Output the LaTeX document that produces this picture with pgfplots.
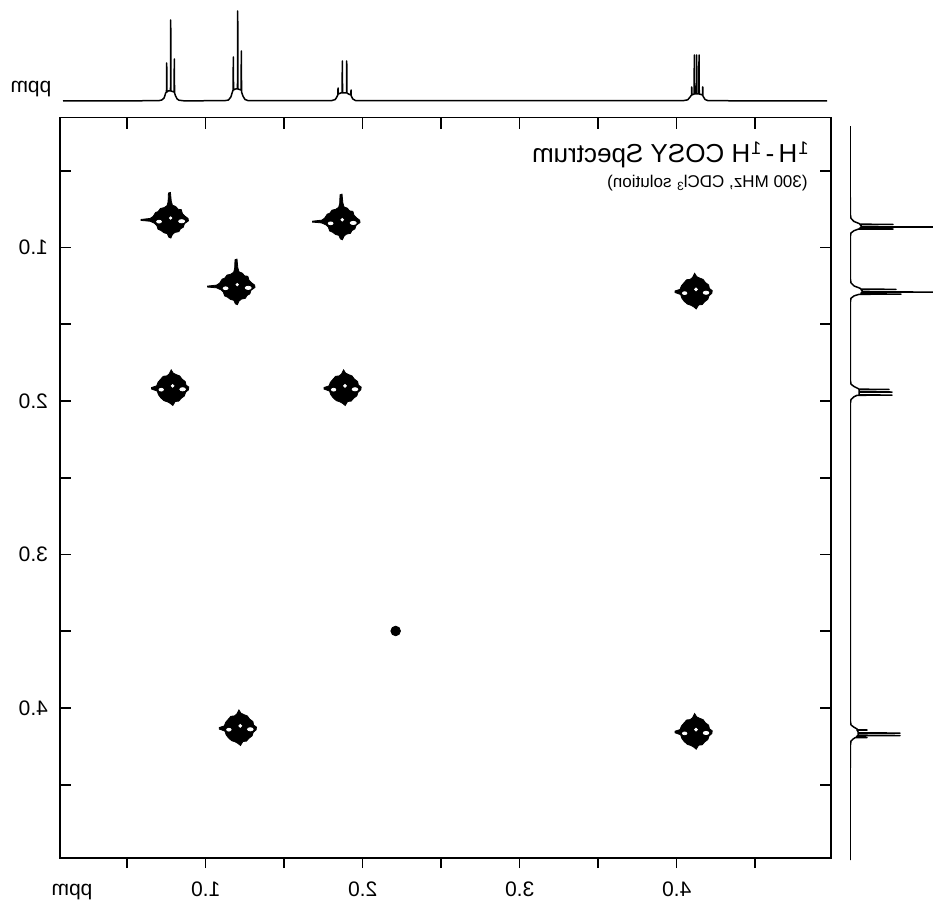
\documentclass[border=0pt]{standalone}
\usepackage{graphicx}
\usepackage{fontspec}
\setmainfont{Liberation Sans}
\usepackage{pgfplots}
\pgfplotsset{compat=1.18}

\pgfdeclareplotmark{blobA}{%
  \fill (-14.5pt,0.3pt) -- (-10pt,0.8pt) -- (-8.5pt,1.8pt) -- (-7.2pt,3.8pt) -- (-6pt,4.2pt) -- (-4.8pt,5.8pt)
   -- (-3pt,6.2pt) -- (-1.5pt,7.2pt) -- (-1pt,9pt) -- (-0.8pt,13.5pt) -- (0.2pt,13.8pt) -- (0.6pt,9.5pt)
   -- (1.2pt,7.4pt) -- (2.8pt,6.8pt) -- (4pt,5.4pt) -- (5.6pt,5.2pt) -- (6.2pt,3.2pt) -- (7.4pt,2pt)
   -- (9pt,0.8pt) -- (9.2pt,-0.4pt) -- (7.2pt,-1.8pt) -- (6.6pt,-3.6pt) -- (5.2pt,-4.4pt) -- (4.4pt,-5.8pt)
   -- (2.4pt,-6.2pt) -- (1.2pt,-7.2pt) -- (0.4pt,-9pt) -- (-0.6pt,-8.6pt) -- (-1.4pt,-6.8pt) -- (-3pt,-6.4pt)
   -- (-4.6pt,-5.2pt) -- (-6pt,-4.6pt) -- (-6.6pt,-2.8pt) -- (-7.8pt,-1.6pt) -- (-10pt,-0.6pt) -- (-14.5pt,-0.2pt) -- cycle;
  \fill[white] (5.8pt,-0.6pt) ellipse (1.5pt and 0.8pt);
  \fill[white] (-5.5pt,-0.8pt) ellipse (1.2pt and 0.7pt);
  \fill[white] (0.3pt,1pt) circle (0.6pt);
}
\pgfdeclareplotmark{blobB}{%
  \fill (-10pt,0.4pt) -- (-7.5pt,1.2pt) -- (-6.8pt,3pt) -- (-5.6pt,4.4pt) -- (-4.2pt,6pt) -- (-2.4pt,6.2pt)
   -- (-1.2pt,7.2pt) -- (-0.2pt,9.2pt) -- (0.8pt,7.6pt) -- (2.4pt,6.8pt) -- (4pt,6.2pt) -- (5.2pt,4.6pt)
   -- (6.8pt,3.4pt) -- (7.2pt,1.6pt) -- (8.6pt,0.6pt) -- (8.4pt,-0.8pt) -- (7pt,-2pt) -- (6.4pt,-3.8pt)
   -- (4.8pt,-5pt) -- (3.6pt,-6.4pt) -- (1.8pt,-6.6pt) -- (0.6pt,-8.6pt) -- (-0.6pt,-7.6pt) -- (-2pt,-6.8pt)
   -- (-3.8pt,-6.2pt) -- (-5.4pt,-4.8pt) -- (-6.6pt,-3.2pt) -- (-7.2pt,-1.4pt) -- (-10pt,-0.4pt) -- cycle;
  \fill[white] (5.5pt,-0.5pt) ellipse (1.4pt and 0.8pt);
  \fill[white] (-5.2pt,-0.7pt) ellipse (1.1pt and 0.7pt);
  \fill[white] (0.5pt,1.2pt) circle (0.7pt);
}

\begin{document}
\begin{tikzpicture}
\useasboundingbox (0,0) rectangle (466.5pt,-452pt);

% main axis: y ticks (inside, both sides), top x ticks inside, data
\begin{axis}[
  at={(30pt,-58.75pt)}, anchor=north west, scale only axis,
  width=385.5pt, height=370.25pt,
  xmin=0.072, xmax=4.983, ymin=0.153, ymax=4.977, y dir=reverse,
  axis line style={line width=0.9pt},
  tick style={line width=0.8pt, black},
  tick align=inside, major tick length=5.5pt, minor tick length=5.5pt,
  xtick={1,2,3,4}, minor xtick={0.5,1.5,2.5,3.5,4.5}, xtick pos=upper, xticklabel=\empty,
  ytick={1,2,3,4}, minor ytick={0.5,1.5,2.5,3.5,4.5}, ytick pos=both, yticklabel pos=lower,
  yticklabels={\reflectbox{1.0},\reflectbox{2.0},\reflectbox{3.0},\reflectbox{4.0}},
  yticklabel style={font=\fontsize{10.5}{12}\selectfont, xshift=-2.5pt},
  clip=false,
]
\addplot[only marks, mark=blobA] coordinates {(0.773,0.821) (1.866,0.832) (1.197,1.255)};
\addplot[only marks, mark=blobB] coordinates {(4.117,1.288) (0.783,1.917) (1.881,1.917) (1.214,4.132) (4.117,4.156)};
\addplot[only marks, mark=*, mark size=2.4pt, black] coordinates {(2.210,3.498)};
\end{axis}

% bottom x ticks outside with labels
\begin{axis}[
  at={(30pt,-58.75pt)}, anchor=north west, scale only axis,
  width=385.5pt, height=370.25pt,
  xmin=0.072, xmax=4.983, ymin=0.153, ymax=4.977, y dir=reverse,
  axis line style={line width=0.9pt},
  tick style={line width=0.8pt, black},
  tick align=outside, major tick length=5pt, minor tick length=5pt,
  xtick={1,2,3,4}, minor xtick={0.5,1.5,2.5,3.5,4.5}, xtick pos=lower,
  xticklabels={\reflectbox{1.0},\reflectbox{2.0},\reflectbox{3.0},\reflectbox{4.0}},
  xticklabel style={font=\fontsize{10.5}{12}\selectfont, yshift=-3.5pt},
  ytick=\empty,
]
\end{axis}

% top 1D spectrum
\begin{axis}[
  at={(31.5pt,-50.5pt)}, anchor=south west, scale only axis,
  width=382pt, height=45.5pt,
  xmin=0.091, xmax=4.957, ymin=0, ymax=91,
  hide axis, clip=false,
]
\addplot[black, line width=0.75pt, line join=round] coordinates {
(0.091,0) (0.70,0.3) (0.72,1) (0.735,3) (0.745,8) (0.7501,9) (0.7516,38) (0.7531,9) (0.760,10) (0.7756,10) (0.7771,81) (0.7786,10) (0.7985,9) (0.8000,42) (0.8015,8) (0.808,5) (0.818,2) (0.83,0.8) (0.86,0.2)
(1.12,0.3) (1.145,1) (1.16,4) (1.17,9) (1.1743,11) (1.1758,44) (1.1773,11) (1.19,12) (1.2023,12) (1.2038,90) (1.2053,12) (1.2253,11) (1.2268,50) (1.2283,9) (1.237,5) (1.25,1.5) (1.27,0.4)
(1.80,0.3) (1.825,1.5) (1.835,4) (1.8412,6) (1.8427,13) (1.8442,7) (1.86,8) (1.8686,8) (1.8701,40) (1.8716,8) (1.8966,8) (1.8981,40) (1.8996,8) (1.91,7) (1.924,6) (1.9255,11) (1.927,5) (1.937,2) (1.955,0.4)
(4.04,0.3) (4.07,1.2) (4.085,4) (4.094,6) (4.0955,14) (4.097,6) (4.1105,7) (4.112,46) (4.1135,7) (4.1255,7) (4.127,46) (4.1285,7) (4.1405,7) (4.142,46) (4.1435,7) (4.164,6) (4.1656,14) (4.167,5) (4.18,1.5) (4.20,0.3) (4.957,0)
};
\end{axis}

% right 1D spectrum
\begin{axis}[
  at={(425pt,-63pt)}, anchor=north west, scale only axis,
  width=41.5pt, height=367pt,
  xmin=0, xmax=83, ymin=0.208, ymax=4.990, y dir=reverse,
  hide axis, clip=true,
]
\addplot[black, line width=0.75pt, line join=round] coordinates {
(0,0.208) (0.3,0.78) (1,0.81) (4,0.83) (9,0.843) (10,0.8475) (43,0.849) (10,0.8505) (11,0.857) (11,0.8645) (95,0.866) (11,0.8675) (10,0.8735) (9,0.8775) (43,0.879) (8,0.8805) (4,0.89) (1,0.905) (0.3,0.93)
(0.3,1.20) (1,1.23) (4,1.25) (10,1.265) (11,1.2705) (46,1.272) (11,1.2735) (12,1.281) (12,1.2885) (95,1.290) (12,1.2915) (11,1.2965) (11,1.3015) (51,1.303) (9,1.3045) (4,1.315) (1,1.33) (0.3,1.36)
(0.3,1.86) (1,1.89) (4,1.905) (8,1.918) (9,1.9225) (39,1.924) (9,1.9255) (9,1.933) (9,1.9395) (42,1.941) (9,1.9425) (9,1.951) (9,1.9595) (42,1.961) (7,1.9625) (4,1.972) (1,1.99) (0.3,2.02)
(0.3,4.08) (1,4.11) (4,4.125) (7,4.136) (7,4.1415) (17,4.143) (7,4.1445) (8,4.153) (8,4.1615) (50,4.163) (8,4.1645) (8,4.1715) (8,4.1775) (50,4.179) (7,4.1805) (7,4.186) (6,4.1905) (17,4.192) (5,4.1935) (3,4.202) (1,4.215) (0.3,4.25) (0,4.99)
};
\end{axis}

% texts (mirrored as in the reference)
\node[anchor=base, font=\fontsize{10.5}{12}\selectfont] at (15.5pt,-46.5pt) {\reflectbox{ppm}};
\node[anchor=base, font=\fontsize{10.5}{12}\selectfont] at (36pt,-447.5pt) {\reflectbox{ppm}};
\node[anchor=east, inner sep=0pt, font=\fontsize{13}{15}\selectfont] at (404.5pt,-77.5pt)
  {\reflectbox{\textsuperscript{1}H\,-\,\textsuperscript{1}H COSY Spectrum}};
\node[anchor=east, inner sep=0pt, font=\fontsize{8.5}{10}\selectfont] at (404pt,-91.5pt)
  {\reflectbox{(300 MHz, CDCl\textsubscript{3} solution)}};
\end{tikzpicture}
\end{document}
